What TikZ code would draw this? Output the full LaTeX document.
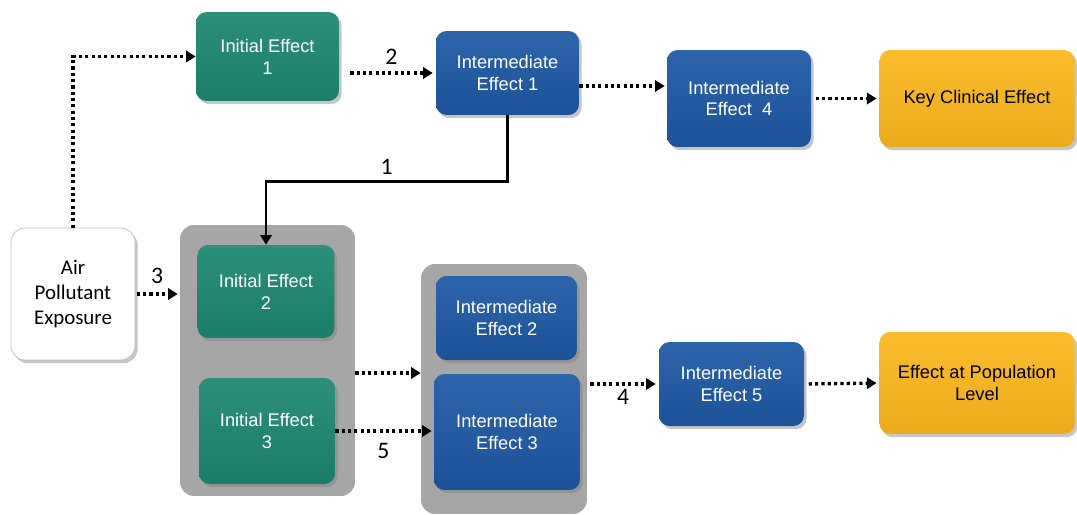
\documentclass[tikz,border=0pt]{standalone}
\usepackage{fontspec}
\setsansfont{Liberation Sans}
\newfontfamily\calib{Carlito}
\usetikzlibrary{arrows.meta,shadows}
\definecolor{effgreen}{RGB}{29,135,112}
\definecolor{effblue}{RGB}{30,88,163}
\definecolor{effgold}{RGB}{251,184,30}
\definecolor{grpgray}{RGB}{166,166,166}

\begin{document}
\begin{tikzpicture}[x=0.02cm,y=-0.02cm,
        eff/.style={rounded corners=6pt, align=center, inner sep=2pt,
            font=\sffamily\fontsize{10.4}{12.4}\selectfont,
            drop shadow={shadow xshift=1.5pt, shadow yshift=-1.8pt, opacity=0.45}},
        tone/.style={top color=#1!93!white, middle color=#1, bottom color=#1!93!black},
        initeff/.style={eff, tone=effgreen, text=white},
        mideff/.style={eff, tone=effblue, text=white},
        endeff/.style={eff, tone=effgold, text=black},
        src/.style={eff, fill=white, draw=black!25, rounded corners=8pt,
            font=\calib\fontsize{11.9}{14.5}\selectfont},
        grp/.style={fill=grpgray, rounded corners=8pt},
        numlab/.style={font=\calib\fontsize{13.5}{16}\selectfont, inner sep=1pt},
        dotarrow/.style={line width=1.9pt, dash pattern=on 1.8pt off 1.8pt,
            -{Triangle[length=5.5pt, width=6.5pt]}},
        solidarrow/.style={line width=1.4pt, -{Triangle[length=5.5pt, width=6.5pt]}}
    ]
    \useasboundingbox (0,0) rectangle (1077,514);

    % grey groups behind
    \node [grp, minimum width=3.5cm, minimum height=5.42cm] (grp1) at (267.5,360.5) {};
    \node [grp, minimum width=3.32cm, minimum height=5.0cm] (grp2) at (504,389) {};

    \node [src, minimum width=2.48cm, minimum height=2.64cm] (air) at (73,294) {Air\\Pollutant\\Exposure};

    \node [initeff, minimum width=2.86cm, minimum height=1.78cm] (ie1) at (267.5,56.5) {Initial Effect\\1};
    \node [initeff, minimum width=2.74cm, minimum height=1.86cm] (ie2) at (266,291.5) {Initial Effect\\2};
    \node [initeff, minimum width=2.72cm, minimum height=2.12cm] (ie3) at (267,431) {Initial Effect\\3};

    \node [mideff, minimum width=2.86cm, minimum height=1.68cm] (me1) at (507.5,73) {Intermediate\\Effect 1};
    \node [mideff, minimum width=2.82cm, minimum height=1.68cm] (me2) at (506.5,318) {Intermediate\\Effect 2};
    \node [mideff, minimum width=2.92cm, minimum height=2.32cm] (me3) at (507,432) {Intermediate\\Effect 3};
    \node [mideff, minimum width=2.88cm, minimum height=1.94cm] (me4) at (739,98.5) {Intermediate\\Effect\ \ 4};
    \node [mideff, minimum width=2.9cm, minimum height=1.68cm] (me5) at (731.5,384) {Intermediate\\Effect 5};

    \node [endeff, minimum width=3.9cm, minimum height=1.94cm] (key) at (977,98.5) {Key Clinical Effect};
    \node [endeff, minimum width=3.9cm, minimum height=2.04cm] (pop) at (977,383) {Effect at Population\\Level};

    % connectors
    \draw [dotarrow] (air.north) |- (ie1.west);
    \draw [dotarrow] ([xshift=0.22cm]ie1.east |- me1.west) -- ([xshift=-0.06cm]me1.west)
        node [midway, above=3pt, numlab] {2};
    \draw [dotarrow] ([yshift=-0.26cm]me1.east) -- ([yshift=-0.26cm, xshift=-0.04cm]me1.east -| me4.west);
    \draw [solidarrow] (me1.south) -- ++(0,66) -| (ie2.north)
        node [pos=0.25, above=2pt, numlab] {1};
    \draw [dotarrow] ([xshift=0.03cm]air.east) -- ([xshift=-0.04cm]air.east -| grp1.west)
        node [midway, above=4pt, numlab] {3};
    \draw [dotarrow] ([yshift=-0.25cm]grp1.east) -- ([yshift=-0.25cm]grp1.east -| grp2.west);
    \draw [dotarrow] (ie3.east) -- ([xshift=-0.04cm]ie3.east -| me3.west)
        node [midway, below=5pt, numlab] {5};
    \draw [dotarrow] ([xshift=0.06cm]grp2.east |- me5.west) -- ([xshift=-0.06cm]me5.west)
        node [midway, below=1pt, numlab] {4};
    \foreach \a/\b in {me4/key, me5/pop}
        \draw [dotarrow, shorten <=2.5pt, shorten >=1.5pt] (\a.east) -- (\b.west);
\end{tikzpicture}
\end{document}
